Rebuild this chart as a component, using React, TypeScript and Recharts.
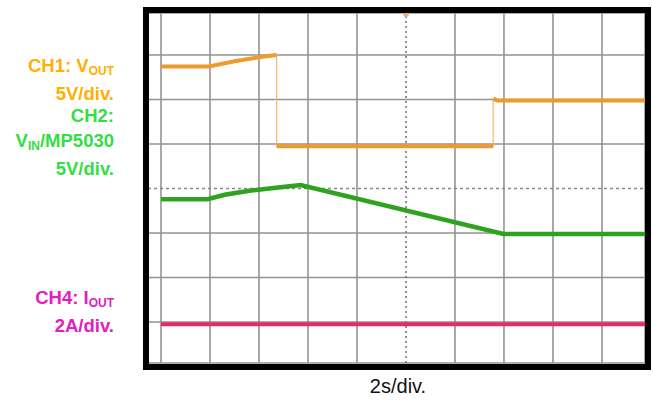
import React from "react";
import {
  CartesianGrid,
  Line,
  LineChart,
  ReferenceDot,
  ReferenceLine,
  XAxis,
  YAxis,
} from "recharts";

// screen units: time in divisions (2 s/div), level in divisions from the bottom of the graticule
const gridTimes = [0, 1, 2, 3, 4, 6, 7, 8, 9];
const gridLevels = [1, 2, 3, 5, 6, 7];

const ch1Time = [0, 0.98, 1.5, 2.0, 2.36, 2.36, 6.78, 6.78, 6.86, 9.9];
const ch1Level = [6.74, 6.74, 6.86, 6.95, 7.0, 4.95, 4.95, 6.02, 5.98, 5.98];

const ch2Time = [0, 0.95, 1.3, 1.8, 2.3, 2.85, 6.99, 9.9];
const ch2Level = [3.76, 3.76, 3.86, 3.95, 4.01, 4.08, 2.98, 2.98];

const ch4Time = [0, 9.9];
const ch4Level = [0.95, 0.95];

const ORANGE = "#ee9a2c";
const GREEN = "#2fa320";
const PINK = "#e42a6e";

const toPoints = (t: number[], v: number[]) => t.map((x, i) => ({ t: x, v: v[i] }));

// break the thick trace at vertical steps so only the thin edge shows there
const withGaps = (t: number[], v: number[]) => {
  const out: { t: number; v: number | null }[] = [];
  t.forEach((x, i) => {
    if (i > 0 && x === t[i - 1]) out.push({ t: x, v: null });
    out.push({ t: x, v: v[i] });
  });
  return out;
};

const label: React.CSSProperties = {
  position: "absolute",
  left: 0,
  width: 114,
  textAlign: "right",
  fontFamily: "'Liberation Sans', Arial, sans-serif",
  fontWeight: "bold",
  fontSize: 18.5,
  lineHeight: "25px",
  whiteSpace: "nowrap",
};

const sub: React.CSSProperties = { fontSize: 12, position: "relative", top: 3 };

export default function App() {
  return (
    <div
      style={{
        position: "absolute",
        left: 0,
        top: 0,
        width: 653,
        height: 405,
        background: "#fff",
        overflow: "hidden",
      }}
    >
      <div style={{ ...label, top: 53, color: "#ffb000" }}>
        <div>
          CH1: V<span style={sub}>OUT</span>
        </div>
        <div>5V/div.</div>
      </div>
      <div style={{ ...label, top: 103, color: "#33dd44" }}>
        <div>CH2:</div>
        <div>
          V<span style={sub}>IN</span>/MP5030
        </div>
        <div>5V/div.</div>
      </div>
      <div style={{ ...label, top: 285, color: "#e020c0" }}>
        <div>
          CH4: I<span style={sub}>OUT</span>
        </div>
        <div>2A/div.</div>
      </div>

      <div style={{ position: "absolute", left: 0, top: 0 }}>
        <LineChart
          width={653}
          height={405}
          margin={{ top: 13, right: 8, bottom: 42, left: 148 }}
        >
          <XAxis
            dataKey="t"
            type="number"
            domain={[-0.265, 9.878]}
            ticks={gridTimes}
            allowDataOverflow
            hide
          />
          <YAxis
            dataKey="v"
            type="number"
            domain={[0.079, 7.944]}
            ticks={gridLevels}
            allowDataOverflow
            hide
          />
          <CartesianGrid stroke="#939393" strokeWidth={1.6} />
          <ReferenceLine x={5} stroke="#777" strokeWidth={1.6} strokeDasharray="2 3" />
          <ReferenceLine y={4} stroke="#888" strokeWidth={1.6} strokeDasharray="3 3" />
          <Line
            data={toPoints(ch1Time, ch1Level)}
            dataKey="v"
            stroke="#f6b868"
            strokeWidth={1.2}
            dot={false}
            isAnimationActive={false}
            type="linear"
          />
          <Line
            data={withGaps(ch1Time, ch1Level)}
            dataKey="v"
            stroke={ORANGE}
            strokeWidth={4}
            dot={false}
            isAnimationActive={false}
            type="linear"
          />
          <Line
            data={toPoints(ch2Time, ch2Level)}
            dataKey="v"
            stroke={GREEN}
            strokeWidth={4.5}
            dot={false}
            isAnimationActive={false}
            type="linear"
          />
          <Line
            data={toPoints(ch4Time, ch4Level)}
            dataKey="v"
            stroke={PINK}
            strokeWidth={4}
            dot={false}
            isAnimationActive={false}
            type="linear"
          />
          <ReferenceDot x={5} y={7.92} r={3} fill="#f3b070" stroke="none" />
        </LineChart>
      </div>

      <div
        style={{
          position: "absolute",
          left: 143,
          top: 7,
          width: 508,
          height: 363,
          border: "6px solid #000",
          boxSizing: "border-box",
          pointerEvents: "none",
        }}
      />

      <div
        style={{
          position: "absolute",
          left: 298,
          top: 375,
          width: 200,
          textAlign: "center",
          fontFamily: "'Liberation Sans', Arial, sans-serif",
          fontSize: 20,
          color: "#111",
        }}
      >
        2s/div.
      </div>
    </div>
  );
}
